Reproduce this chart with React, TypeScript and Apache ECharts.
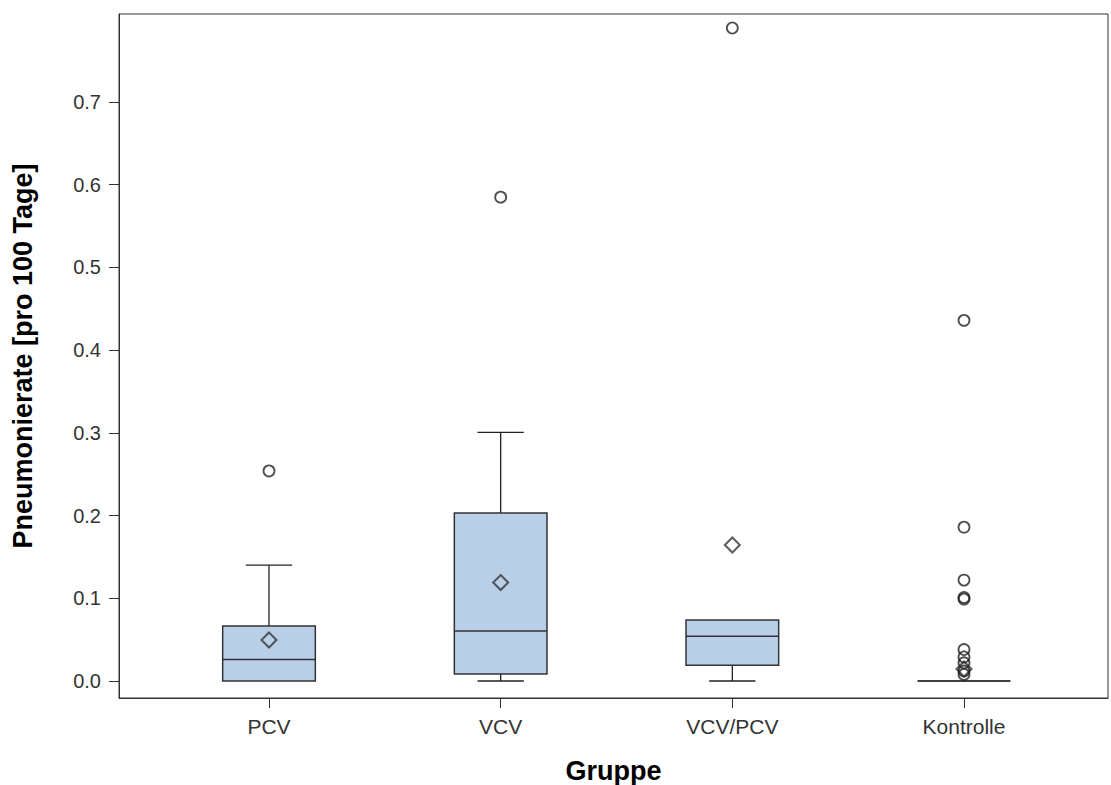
import React, { useEffect, useRef } from "react";
import * as echarts from "echarts";

const categories = ["PCV", "VCV", "VCV/PCV", "Kontrolle"];
// [min whisker, Q1, median, Q3, max whisker]
const boxStats = [
  [0.0, 0.0, 0.026, 0.0665, 0.14],
  [0.0, 0.0085, 0.0605, 0.203, 0.3006],
  [0.0, 0.019, 0.054, 0.0738, 0.0738],
  [0.0, 0.0, 0.0, 0.0, 0.0],
];
const means = [0.0496, 0.119, 0.1644, 0.0145];
const outliers: [number, number][] = [
  [0, 0.254],
  [1, 0.585],
  [2, 0.7895],
  [3, 0.436],
  [3, 0.186],
  [3, 0.122],
  [3, 0.101],
  [3, 0.099],
  [3, 0.038],
  [3, 0.029],
  [3, 0.022],
  [3, 0.012],
  [3, 0.008],
];
const yTicks = [0, 0.1, 0.2, 0.3, 0.4, 0.5, 0.6, 0.7];
const xTicks = [0, 1, 2, 3];

const FONT = "Liberation Sans, Arial, sans-serif";

export default function App() {
  const ref = useRef<HTMLDivElement>(null);
  useEffect(() => {
    if (!ref.current) return;
    const chart = echarts.init(ref.current, undefined, { renderer: "svg" });
    const boxData = boxStats.map((s, i) => [i, ...s]);
    chart.setOption({
      animation: false,
      backgroundColor: "#fff",
      grid: {
        left: 119,
        right: 3,
        top: 14,
        bottom: 87,
        containLabel: false,
        outerBoundsMode: "none",
        show: true,
        borderColor: "#333",
        borderWidth: 1,
        backgroundColor: "transparent",
      },
      xAxis: {
        type: "value",
        min: -0.6475,
        max: 3.6216,
        axisLine: { show: true, onZero: false, lineStyle: { color: "#333" } },
        axisTick: { show: true, length: 10, customValues: xTicks, lineStyle: { color: "#333" } },
        axisLabel: {
          margin: 18,
          fontSize: 21,
          color: "#333",
          fontFamily: FONT,
          customValues: xTicks,
          formatter: (v: number) => categories[Math.round(v)] ?? "",
        },
        name: "Gruppe",
        nameLocation: "middle",
        nameGap: 59,
        nameTextStyle: { fontSize: 27, fontWeight: "bold", color: "#000", fontFamily: FONT },
        splitLine: { show: false },
      },
      yAxis: {
        type: "value",
        min: -0.02055,
        max: 0.8064,
        axisLine: { show: true, onZero: false, lineStyle: { color: "#333" } },
        axisTick: { show: true, length: 10, customValues: yTicks, lineStyle: { color: "#333" } },
        axisLabel: {
          margin: 18,
          fontSize: 20,
          color: "#333",
          fontFamily: FONT,
          customValues: yTicks,
          formatter: (v: number) => v.toFixed(1),
        },
        splitLine: { show: false },
        name: "Pneumonierate [pro 100 Tage]",
        nameLocation: "middle",
        nameGap: 83,
        nameTextStyle: { fontSize: 27, fontWeight: "bold", color: "#000", fontFamily: FONT },
      },
      series: [
        {
          type: "custom",
          data: boxData,
          encode: { x: 0, y: [1, 2, 3, 4, 5] },
          renderItem: (params: any, api: any) => {
            const idx = api.value(0);
            const lo = api.value(1);
            const q1 = api.value(2);
            const med = api.value(3);
            const q3 = api.value(4);
            const hi = api.value(5);
            const unit = api.size([1, 0])[0];
            const w = unit * 0.4;
            const cap = w / 2;
            const pLo = api.coord([idx, lo]);
            const pQ1 = api.coord([idx, q1]);
            const pMed = api.coord([idx, med]);
            const pQ3 = api.coord([idx, q3]);
            const pHi = api.coord([idx, hi]);
            const x = pMed[0];
            const ls = { stroke: "#222", lineWidth: 1.3, fill: null };
            const children: any[] = [];
            if (hi > q3) {
              children.push({ type: "line", shape: { x1: x, y1: pQ3[1], x2: x, y2: pHi[1] }, style: ls });
              children.push({ type: "line", shape: { x1: x - cap / 2, y1: pHi[1], x2: x + cap / 2, y2: pHi[1] }, style: ls });
            }
            if (lo < q1) {
              children.push({ type: "line", shape: { x1: x, y1: pQ1[1], x2: x, y2: pLo[1] }, style: ls });
              children.push({ type: "line", shape: { x1: x - cap / 2, y1: pLo[1], x2: x + cap / 2, y2: pLo[1] }, style: ls });
            }
            children.push({
              type: "rect",
              shape: { x: x - w / 2, y: pQ3[1], width: w, height: pQ1[1] - pQ3[1] },
              style: { fill: "#b9cfe8", stroke: "#333", lineWidth: 1.5 },
            });
            children.push({
              type: "line",
              shape: { x1: x - w / 2, y1: pMed[1], x2: x + w / 2, y2: pMed[1] },
              style: { stroke: "#333", lineWidth: 1.5 },
            });
            return { type: "group", children };
          },
          z: 2,
        },
        {
          type: "scatter",
          data: means.map((m, i) => [i, m]),
          symbol: "diamond",
          symbolSize: 15,
          itemStyle: { color: "rgba(0,0,0,0)", borderColor: "#333", borderWidth: 2 },
          z: 4,
        },
        {
          type: "scatter",
          data: outliers,
          symbol: "circle",
          symbolSize: 11,
          clip: false,
          itemStyle: { color: "rgba(255,255,255,0)", borderColor: "#222", borderWidth: 1.8 },
          z: 5,
        },
      ],
    });
    return () => chart.dispose();
  }, []);
  return <div ref={ref} style={{ width: 1111, height: 785, position: "absolute", left: 0, top: 0 }} />;
}
